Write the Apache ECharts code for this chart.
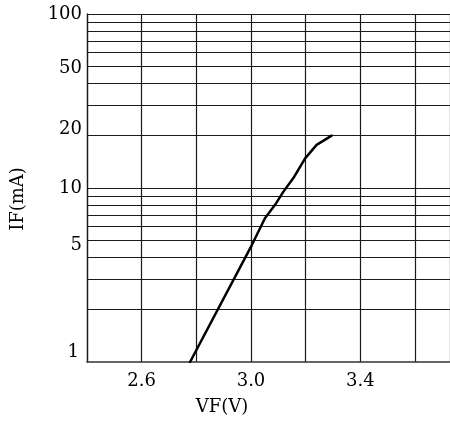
<!DOCTYPE html>
<html>
<head>
<meta charset="utf-8">
<script src="https://cdn.jsdelivr.net/npm/echarts@6/dist/echarts.min.js"></script>
<style>html,body{margin:0;padding:0;background:#fff;}#c{width:450px;height:423px;}</style>
</head>
<body>
<div id="c"></div>
<script>
// Data
var vfValues = [2.777, 3.003, 3.051, 3.088, 3.118, 3.155, 3.198, 3.240, 3.295];
var ifValues = [1.0, 4.7, 6.7, 8.0, 9.5, 11.4, 14.8, 17.7, 20.0];
var yGridValues = [2, 3, 4, 5, 6, 7, 8, 9, 10, 20, 30, 40, 50, 60, 70, 80, 90, 100];
var yTickLabels = [1, 5, 10, 20, 50, 100];
var xTickLabels = [2.6, 3.0, 3.4];

var FONT = '"DejaVu Serif", "Liberation Serif", serif';
var chart = echarts.init(document.getElementById('c'));
var pts = vfValues.map(function (v, i) { return [v, ifValues[i]]; });

chart.setOption({
  animation: false,
  backgroundColor: '#fff',
  grid: { left: 87, top: 14, right: 0, bottom: 61 },
  xAxis: {
    type: 'value', min: 2.4, max: 3.728, interval: 0.2,
    name: 'VF(V)', nameLocation: 'middle', nameGap: 36,
    nameTextStyle: { fontFamily: FONT, fontSize: 18, color: '#000', padding: [0, 93, 0, 0] },
    axisLine: { show: true, lineStyle: { color: '#333', width: 1.5 } },
    axisTick: { show: false },
    axisLabel: {
      customValues: xTickLabels, margin: 10,
      fontFamily: FONT, fontSize: 18, color: '#000',
      formatter: function (v) { return v.toFixed(1); }
    },
    splitLine: { show: true, lineStyle: { color: '#1a1a1a', width: 1.2 } }
  },
  yAxis: {
    type: 'log', logBase: 10, min: 1, max: 100,
    name: 'IF(mA)', nameLocation: 'middle', nameGap: 60,
    nameTextStyle: { fontFamily: FONT, fontSize: 18, color: '#000', padding: [0, 22, 0, 0] },
    axisLine: { show: true, lineStyle: { color: '#1a1a1a', width: 1.3 } },
    axisTick: { show: false },
    splitLine: { show: false },
    axisLabel: {
      customValues: yTickLabels, margin: 5,
      fontFamily: FONT, fontSize: 18, color: '#000',
      formatter: function (v) {
        var s = String(Math.round(v));
        if (s === '1') return '{up|1}';
        if (s === '20') return '{up2|20}';
        if (s === '5') return '{dn|5}';
        if (s === '50') return '{dn2|50}';
        return s;
      },
      rich: {
        up: { fontFamily: FONT, fontSize: 18, color: '#000', padding: [0, 3, 20, 0] },
        up2: { fontFamily: FONT, fontSize: 18, color: '#000', padding: [0, 0, 12, 0] },
        dn: { fontFamily: FONT, fontSize: 18, color: '#000', padding: [10, 0, 0, 0] },
        dn2: { fontFamily: FONT, fontSize: 18, color: '#000', padding: [4, 0, 0, 0] }
      }
    }
  },
  series: [{
    type: 'line',
    data: pts,
    showSymbol: false,
    smooth: false,
    lineStyle: { color: '#000', width: 2.5, join: 'round', cap: 'round' },
    markLine: {
      silent: true, symbol: 'none', animation: false,
      label: { show: false },
      lineStyle: { color: '#1a1a1a', width: 1.2, type: 'solid' },
      data: yGridValues.map(function (v) { return { yAxis: v }; })
    },
    z: 5
  }]
});
</script>
</body>
</html>
